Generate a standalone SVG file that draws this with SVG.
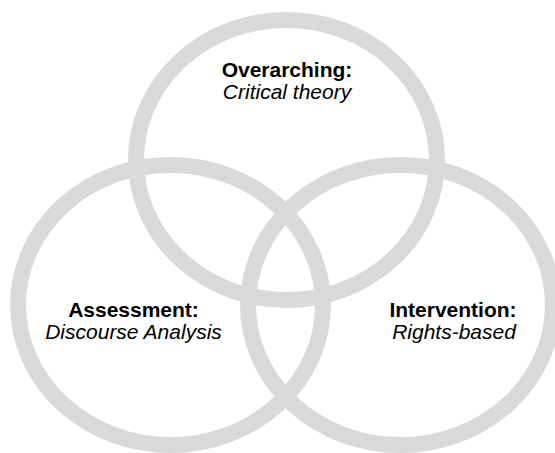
<svg xmlns="http://www.w3.org/2000/svg" width="555" height="453" viewBox="0 0 555 453">
<style>
.ring{fill:none;stroke:#d9d9d9;stroke-width:16}
.t{font-family:"Liberation Sans",Arial,sans-serif;font-size:21px;fill:#000;text-anchor:middle}
.b{font-weight:bold}
.i{font-style:italic}
</style>
<rect width="555" height="453" fill="#fff"/>
<g id="connectors"></g>
<g id="top">
<ellipse class="ring" cx="286.5" cy="160" rx="150.5" ry="140"/>
<text class="t b" x="287" y="77">Overarching:</text>
<text class="t i" x="287" y="99">Critical theory</text>
</g>
<g id="left">
<ellipse class="ring" cx="170.5" cy="305" rx="152.5" ry="140"/>
<text class="t b" x="133.5" y="317">Assessment:</text>
<text class="t i" x="133.5" y="339">Discourse Analysis</text>
</g>
<g id="right">
<ellipse class="ring" cx="400.5" cy="305" rx="152.5" ry="140"/>
<text class="t b" x="453" y="317">Intervention:</text>
<text class="t i" x="454" y="339">Rights-based</text>
</g>
</svg>
